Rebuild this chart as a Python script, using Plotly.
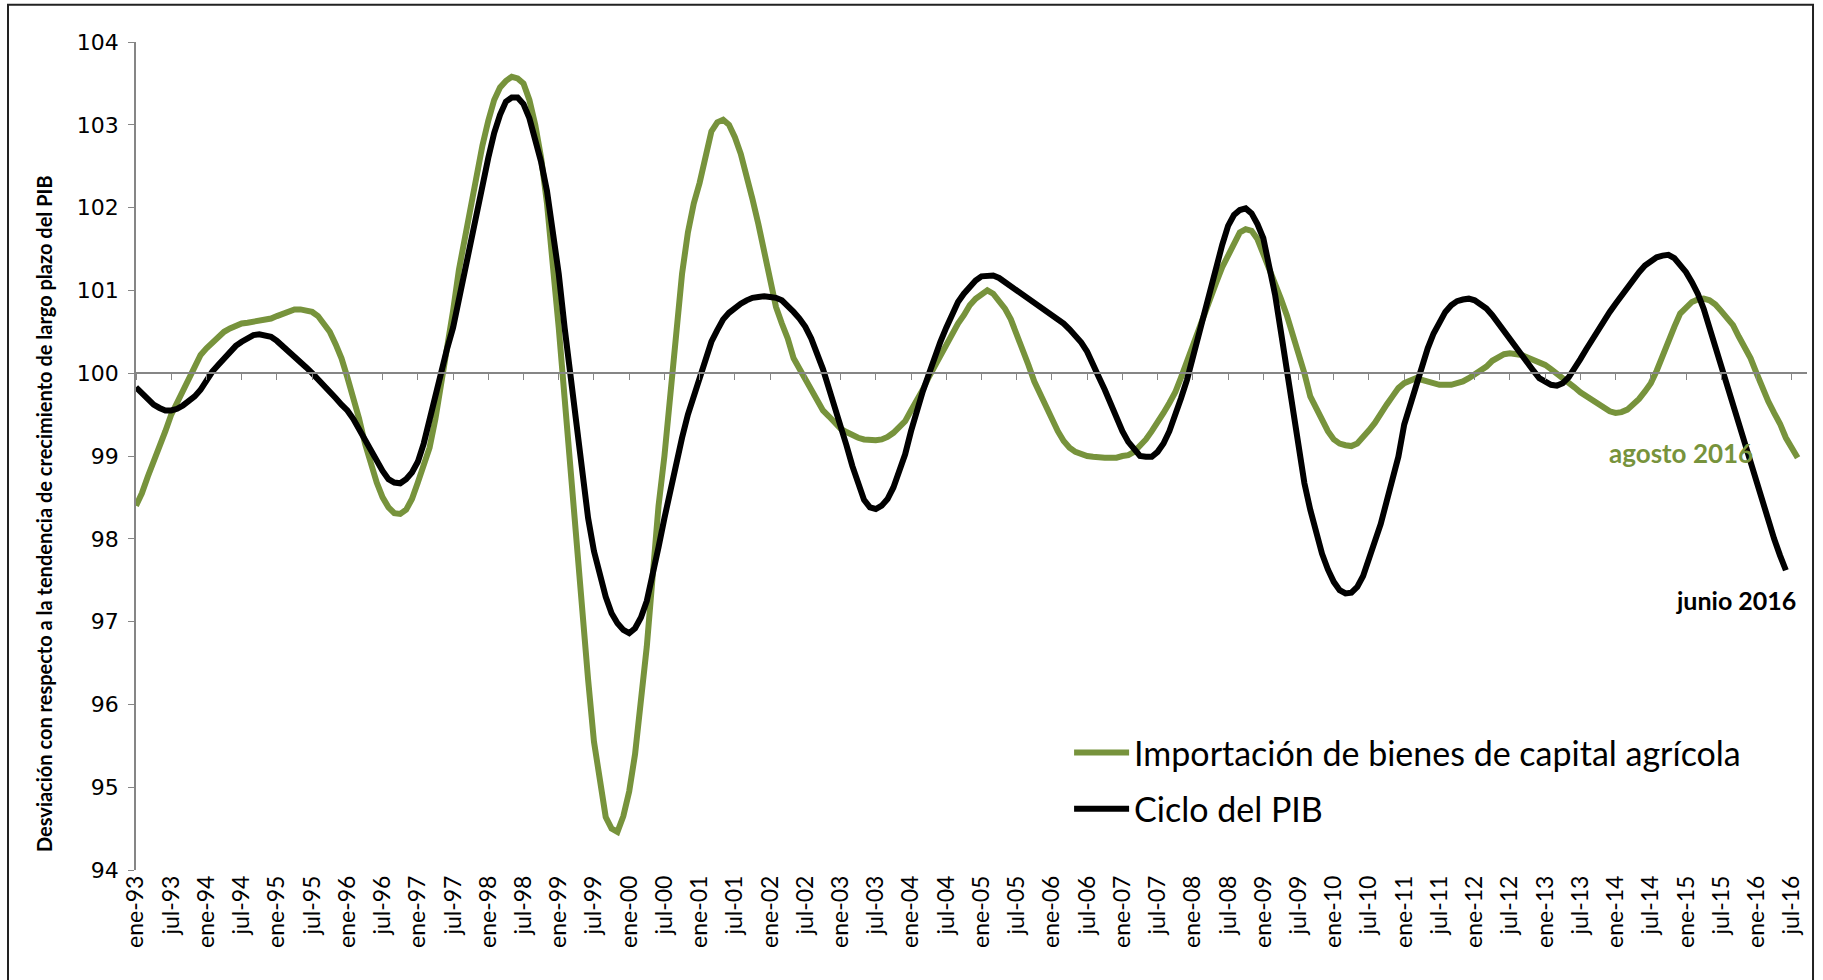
import plotly.graph_objects as go

# meses en español, serie mensual desde ene-93
meses = ["ene", "feb", "mar", "abr", "may", "jun", "jul", "ago", "sep", "oct", "nov", "dic"]
periodos = [f"{meses[i % 12]}-{(93 + i // 12) % 100:02d}" for i in range(285)]

# Importación de bienes de capital agrícola (ene-93 a ago-16)
importacion = [
    98.40, 98.55, 98.75, 98.92, 99.10, 99.30, 99.50, 99.65, 99.78, 99.92, 100.10, 100.22,
    100.30, 100.37, 100.44, 100.50, 100.54, 100.57, 100.60, 100.61, 100.62, 100.63, 100.64, 100.66,
    100.69, 100.72, 100.75, 100.77, 100.77, 100.76, 100.74, 100.69, 100.60, 100.50, 100.35, 100.18,
    99.95, 99.72, 99.45, 99.15, 98.90, 98.68, 98.50, 98.38, 98.31, 98.30, 98.35, 98.48,
    98.68, 98.90, 99.10, 99.45, 99.85, 100.25, 100.75, 101.25, 101.65, 102.00, 102.35, 102.75,
    103.05, 103.30, 103.45, 103.53, 103.58, 103.56, 103.50, 103.30, 103.00, 102.60, 102.05, 101.35,
    100.55, 99.70, 98.82, 98.00, 97.10, 96.30, 95.55, 95.03, 94.64, 94.50, 94.46, 94.65,
    94.95, 95.40, 96.00, 96.70, 97.55, 98.40, 99.00, 99.75, 100.55, 101.20, 101.70, 102.05,
    102.30, 102.65, 102.92, 103.03, 103.06, 103.00, 102.85, 102.65, 102.40, 102.10, 101.80, 101.45,
    101.10, 100.80, 100.60, 100.42, 100.18, 100.05, 99.92, 99.79, 99.66, 99.55, 99.48, 99.40,
    99.33, 99.29, 99.25, 99.22, 99.20, 99.19, 99.19, 99.20, 99.23, 99.28, 99.34, 99.42,
    99.55, 99.67, 99.80, 99.95, 100.08, 100.22, 100.36, 100.48, 100.60, 100.70, 100.82, 100.90,
    100.96, 101.00, 100.96, 100.88, 100.78, 100.65, 100.48, 100.30, 100.10, 99.90, 99.75, 99.58,
    99.43, 99.30, 99.18, 99.10, 99.05, 99.02, 99.00, 98.99, 98.98, 98.98, 98.98, 98.98,
    99.00, 99.01, 99.05, 99.12, 99.20, 99.30, 99.40, 99.52, 99.64, 99.77, 99.95, 100.15,
    100.34, 100.53, 100.72, 100.92, 101.10, 101.28, 101.43, 101.58, 101.70, 101.74, 101.72, 101.62,
    101.45, 101.28, 101.08, 100.90, 100.70, 100.48, 100.25, 100.00, 99.72, 99.58, 99.45, 99.30,
    99.20, 99.15, 99.13, 99.12, 99.15, 99.22, 99.31, 99.40, 99.52, 99.62, 99.72, 99.82,
    99.88, 99.92, 99.94, 99.92, 99.90, 99.88, 99.86, 99.86, 99.86, 99.88, 99.90, 99.94,
    99.98, 100.03, 100.08, 100.15, 100.20, 100.23, 100.24, 100.23, 100.22, 100.19, 100.16, 100.13,
    100.10, 100.05, 100.00, 99.94, 99.89, 99.83, 99.77, 99.72, 99.67, 99.62, 99.58, 99.54,
    99.52, 99.53, 99.56, 99.62, 99.69, 99.78, 99.88, 100.03, 100.22, 100.40, 100.56, 100.72,
    100.80, 100.86, 100.89, 100.90, 100.88, 100.83, 100.75, 100.67, 100.58, 100.44, 100.32, 100.18,
    100.00, 99.82, 99.66, 99.52, 99.39, 99.22, 99.10, 98.98,
]

# Ciclo del PIB (ene-93 a jun-16)
ciclo_pib = [
    99.83, 99.76, 99.68, 99.62, 99.58, 99.55, 99.55, 99.57, 99.61, 99.66, 99.72, 99.80,
    99.92, 100.02, 100.10, 100.18, 100.25, 100.33, 100.38, 100.43, 100.46, 100.47, 100.46, 100.44,
    100.39, 100.33, 100.26, 100.19, 100.13, 100.07, 100.00, 99.93, 99.86, 99.79, 99.70, 99.62,
    99.55, 99.45, 99.32, 99.18, 99.05, 98.92, 98.82, 98.72, 98.68, 98.67, 98.72, 98.80,
    98.93, 99.15, 99.45, 99.70, 99.98, 100.30, 100.55, 100.90, 101.25, 101.55, 101.90, 102.25,
    102.60, 102.90, 103.12, 103.28, 103.33, 103.33, 103.25, 103.08, 102.82, 102.55, 102.20, 101.75,
    101.20, 100.55, 99.95, 99.35, 98.75, 98.25, 97.85, 97.55, 97.30, 97.10, 96.98, 96.90,
    96.86, 96.92, 97.05, 97.25, 97.55, 97.90, 98.25, 98.60, 98.90, 99.22, 99.50, 99.72,
    99.95, 100.18, 100.38, 100.52, 100.65, 100.73, 100.79, 100.84, 100.88, 100.91, 100.92, 100.93,
    100.92, 100.91, 100.88, 100.82, 100.74, 100.66, 100.56, 100.42, 100.25, 100.05, 99.82, 99.60,
    99.38, 99.13, 98.88, 98.65, 98.47, 98.38, 98.36, 98.40, 98.48, 98.62, 98.82, 99.02,
    99.30, 99.55, 99.78, 99.98, 100.20, 100.38, 100.55, 100.72, 100.86, 100.96, 101.05, 101.12,
    101.17, 101.18, 101.18, 101.15, 101.10, 101.06, 101.01, 100.96, 100.91, 100.86, 100.80, 100.76,
    100.71, 100.66, 100.60, 100.53, 100.46, 100.37, 100.26, 100.12, 99.95, 99.80, 99.62, 99.45,
    99.30, 99.17, 99.07, 99.00, 98.99, 98.99, 99.05, 99.15, 99.30, 99.48, 99.70, 99.92,
    100.20, 100.45, 100.72, 101.02, 101.30, 101.55, 101.78, 101.91, 101.97, 101.99, 101.93, 101.80,
    101.63, 101.30, 100.95, 100.50, 100.05, 99.55, 99.07, 98.67, 98.35, 98.08, 97.82, 97.63,
    97.48, 97.38, 97.34, 97.35, 97.42, 97.55, 97.75, 97.97, 98.18, 98.45, 98.72, 98.99,
    99.38, 99.62, 99.88, 100.10, 100.30, 100.48, 100.63, 100.74, 100.82, 100.87, 100.89, 100.90,
    100.88, 100.84, 100.78, 100.70, 100.60, 100.50, 100.40, 100.30, 100.22, 100.12, 100.03, 99.94,
    99.89, 99.86, 99.85, 99.88, 99.95, 100.05, 100.17, 100.29, 100.41, 100.53, 100.64, 100.74,
    100.84, 100.94, 101.04, 101.13, 101.22, 101.30, 101.36, 101.40, 101.42, 101.43, 101.39, 101.31,
    101.22, 101.10, 100.96, 100.78, 100.55, 100.32, 100.08, 99.86, 99.62, 99.38, 99.15, 98.90,
    98.65, 98.42, 98.22, 98.00, 97.80, 97.62,
]

VERDE = "#77933C"
GRIS = "#868686"
FUENTE = "Lato"

fig = go.Figure()

fig.add_trace(go.Scatter(
    x=periodos[:len(importacion)], y=importacion, mode="lines",
    name="Importación de bienes de capital agrícola", legendgroup="a",
    line=dict(color=VERDE, width=6)))
fig.add_trace(go.Scatter(
    x=periodos[:len(ciclo_pib)], y=ciclo_pib, mode="lines",
    name="Ciclo del PIB", legendgroup="b",
    line=dict(color="black", width=6)))
# eje auxiliar: linea horizontal en 100 con marcas cada 6 meses
fig.add_trace(go.Scatter(x=[], y=[], xaxis="x2", showlegend=False, hoverinfo="skip"))

rango_x = [0, 284.6]

fig.add_annotation(x=periodos[len(importacion) - 1], y=importacion[-1], text="<b>agosto 2016</b>",
                   showarrow=False, xanchor="right", yanchor="middle", xshift=-43, yshift=5,
                   font=dict(family=FUENTE, size=26, color=VERDE))
fig.add_annotation(x=periodos[len(ciclo_pib) - 1], y=ciclo_pib[-1], text="<b>junio 2016</b>",
                   showarrow=False, xanchor="right", yanchor="middle", xshift=12, yshift=-30,
                   font=dict(family=FUENTE, size=25, color="black"))
fig.add_annotation(xref="paper", yref="paper", x=-0.055, y=0.43, textangle=-90,
                   text="<b>Desviación con respecto a la tendencia de crecimiento de largo plazo del PIB</b>",
                   showarrow=False, xanchor="center", yanchor="middle",
                   font=dict(family=FUENTE, size=20, color="black"))

# marco exterior
fig.add_shape(type="rect", xref="paper", yref="paper", x0=-0.0766, x1=1.0036, y0=-0.2, y1=1.045,
              line=dict(color="#222222", width=2), fillcolor="rgba(0,0,0,0)")

fig.update_layout(
    width=1823, height=980,
    margin=dict(l=136, r=16, t=42, b=110),
    paper_bgcolor="white", plot_bgcolor="white",
    showlegend=True,
    legend=dict(x=0.5584, y=0.1075, xanchor="left", yanchor="middle",
                font=dict(family=FUENTE, size=34, color="black"),
                itemwidth=55, tracegroupgap=9, bgcolor="rgba(0,0,0,0)"),
    xaxis=dict(type="category", categoryorder="array", categoryarray=periodos,
               range=rango_x, tickvals=periodos[0:283:6], tickangle=-90,
               showline=False, ticks="", showgrid=False, zeroline=False,
               tickfont=dict(family=FUENTE, size=23, color="black")),
    xaxis2=dict(overlaying="x", anchor="free", position=0.6, range=rango_x,
                tickvals=list(range(0, 285, 6)), showticklabels=False,
                showline=True, linecolor=GRIS, linewidth=1.5,
                ticks="outside", ticklen=6, tickcolor=GRIS, showgrid=False, zeroline=False),
    yaxis=dict(range=[94, 104], dtick=1, showline=True, linecolor=GRIS, linewidth=1.5,
               ticks="outside", ticklen=6, tickcolor=GRIS, showgrid=False, zeroline=False,
               ticklabelstandoff=5,
               tickfont=dict(family="DejaVu Sans", size=22, color="black")),
)

# sin margen del body para que la figura ocupe exactamente la ventana
fig.write_html("out.html", config={"displayModeBar": False},
               post_script="document.body.style.margin='0';")
